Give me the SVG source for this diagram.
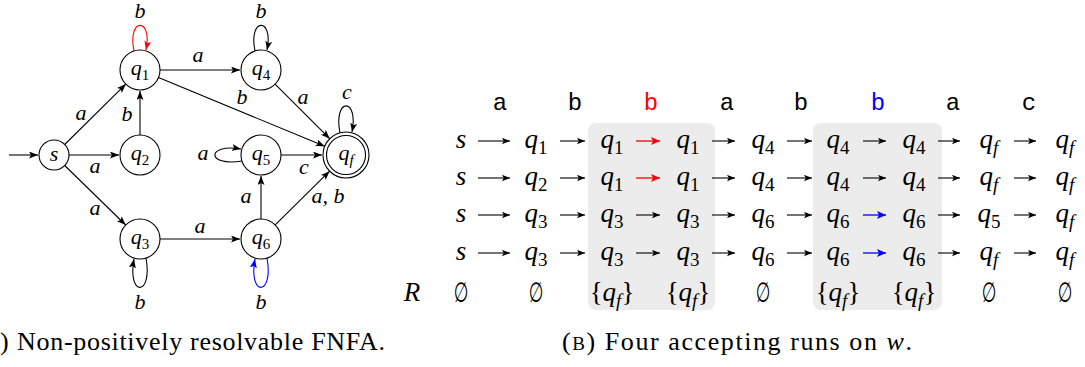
<svg xmlns="http://www.w3.org/2000/svg" width="1085" height="367" viewBox="0 0 1085 367">
<style>
.n{fill:#fff;stroke:#000;stroke-width:1.1}
.e{fill:none;stroke:#000;stroke-width:1.1;marker-end:url(#ah)}
.er{fill:none;stroke:#f00;stroke-width:1.1;marker-end:url(#ahr)}
.eb{fill:none;stroke:#00f;stroke-width:1.1;marker-end:url(#ahb)}
.m{font-style:italic}
.nl{font-size:22px}
.ns{font-size:15px;font-style:normal}
.nsi{font-size:15px}
.tm{font-style:italic;font-size:27px}
.ts{font-size:19px;font-style:normal}
.tsi{font-size:19px}
.up{font-style:normal}
.tt{font-size:24px}
.cap{font-size:26px}
.ta{fill:none;stroke:#000;stroke-width:1.1;marker-end:url(#th)}
.tar{fill:none;stroke:#f00;stroke-width:1.3;marker-end:url(#thr)}
.tab{fill:none;stroke:#00f;stroke-width:1.3;marker-end:url(#thb)}
.box{fill:#ececec}
.es{font-size:28px}
</style>
<defs>
<marker id="ah" viewBox="0 0 9 7" refX="9" refY="3.5" markerWidth="9" markerHeight="7" orient="auto" markerUnits="userSpaceOnUse"><path d="M0,0 L9,3.5 L0,7 L2,3.5 Z" fill="#000"/></marker>
<marker id="ahr" viewBox="0 0 9 7" refX="9" refY="3.5" markerWidth="9" markerHeight="7" orient="auto" markerUnits="userSpaceOnUse"><path d="M0,0 L9,3.5 L0,7 L2,3.5 Z" fill="#f00"/></marker>
<marker id="ahb" viewBox="0 0 9 7" refX="9" refY="3.5" markerWidth="9" markerHeight="7" orient="auto" markerUnits="userSpaceOnUse"><path d="M0,0 L9,3.5 L0,7 L2,3.5 Z" fill="#00f"/></marker>
<marker id="th" viewBox="0 0 8 7" refX="8" refY="3.5" markerWidth="8" markerHeight="7" orient="auto" markerUnits="userSpaceOnUse"><path d="M0,0.3 L8,3.5 L0,6.7 L1.8,3.5 Z" fill="#000"/></marker>
<marker id="thr" viewBox="0 0 9 8" refX="9" refY="4" markerWidth="9" markerHeight="8" orient="auto" markerUnits="userSpaceOnUse"><path d="M0,0 L9,4 L0,8 L2,4 Z" fill="#f00"/></marker>
<marker id="thb" viewBox="0 0 9 8" refX="9" refY="4" markerWidth="9" markerHeight="8" orient="auto" markerUnits="userSpaceOnUse"><path d="M0,0 L9,4 L0,8 L2,4 Z" fill="#00f"/></marker>
</defs>

<g id="connectors">
<path class="e" d="M9,155 H38"/>
<path class="e" d="M64.7,144.5 L125.8,84.1"/>
<path class="e" d="M69,155 H119"/>
<path class="e" d="M64.7,165.5 L125.7,225"/>
<path class="e" d="M140,135 V91"/>
<path class="e" d="M160,70 H240"/>
<path class="e" d="M158.5,77.6 L324.7,146.2"/>
<path class="e" d="M275.1,84.1 L329.7,138.7"/>
<path class="e" d="M281,155 H322"/>
<path class="e" d="M160,239 H240"/>
<path class="e" d="M261,219 V176"/>
<path class="e" d="M275.2,224.9 L329.6,171.2"/>
<path class="er" d="M134,51 C127,17 153,17 146,50"/>
<path class="e" d="M255,51 C248,17 274,17 267,50"/>
<path class="e" d="M340,133 C333,97 359,97 352,132"/>
<path class="e" d="M242,161 C206,167 206,143 241,149"/>
<path class="e" d="M146,258 C153,297 127,297 134,259"/>
<path class="eb" d="M267,258 C274,297 248,297 255,259"/>
<g class="m nl" text-anchor="middle" font-family="Liberation Serif, serif">
<text x="140" y="18">b</text>
<text x="81" y="120">a</text>
<text x="127" y="121">b</text>
<text x="95" y="173">a</text>
<text x="95" y="215">a</text>
<text x="140" y="309">b</text>
<text x="198" y="62">a</text>
<text x="261" y="18">b</text>
<text x="242" y="104">b</text>
<text x="303" y="104">a</text>
<text x="347" y="99">c</text>
<text x="203" y="160">a</text>
<text x="304" y="174">c</text>
<text x="246" y="203">a</text>
<text x="328" y="203">a, b</text>
<text x="200" y="233">a</text>
<text x="261" y="309">b</text>
</g>
</g>

<g font-family="Liberation Serif, serif">
<g id="s"><circle class="n" cx="54" cy="155" r="15"/><text class="m nl" x="54" y="161" text-anchor="middle">s</text></g>
<g id="q1"><circle class="n" cx="140" cy="70" r="20"/><text class="m nl" x="140" y="75" text-anchor="middle">q<tspan class="ns" dy="5">1</tspan></text></g>
<g id="q2"><circle class="n" cx="140" cy="155" r="20"/><text class="m nl" x="140" y="160" text-anchor="middle">q<tspan class="ns" dy="5">2</tspan></text></g>
<g id="q3"><circle class="n" cx="140" cy="239" r="20"/><text class="m nl" x="140" y="244" text-anchor="middle">q<tspan class="ns" dy="5">3</tspan></text></g>
<g id="q4"><circle class="n" cx="261" cy="70" r="20"/><text class="m nl" x="261" y="75" text-anchor="middle">q<tspan class="ns" dy="5">4</tspan></text></g>
<g id="q5"><circle class="n" cx="261" cy="155" r="20"/><text class="m nl" x="261" y="160" text-anchor="middle">q<tspan class="ns" dy="5">5</tspan></text></g>
<g id="q6"><circle class="n" cx="261" cy="239" r="20"/><text class="m nl" x="261" y="244" text-anchor="middle">q<tspan class="ns" dy="5">6</tspan></text></g>
<g id="qf"><circle class="n" cx="346" cy="155" r="23"/><circle class="n" cx="346" cy="155" r="19.5"/><text class="m nl" x="346" y="160" text-anchor="middle">q<tspan class="nsi" dy="5">f</tspan></text></g>

<text class="cap" x="0" y="350">)</text>
<text class="cap" x="17" y="350" textLength="368" lengthAdjust="spacing">Non-positively resolvable FNFA.</text>
</g>

<g id="table">
<rect class="box" x="588" y="123" width="127" height="187" rx="8"/>
<rect class="box" x="813" y="123" width="129" height="187" rx="8"/>
<g class="tt" text-anchor="middle" font-family="Liberation Mono, monospace">
<text x="500" y="110">a</text>
<text x="575" y="110">b</text>
<text x="651" y="110" fill="#f00">b</text>
<text x="727" y="110">a</text>
<text x="801" y="110">b</text>
<text x="878" y="110" fill="#00f">b</text>
<text x="953" y="110">a</text>
<text x="1029" y="110">c</text>
</g>
<g class="tm" text-anchor="middle" font-family="Liberation Serif, serif">
<text x="461" y="148">s</text><text x="536" y="148">q<tspan class="ts" dy="6">1</tspan></text><text x="612" y="148">q<tspan class="ts" dy="6">1</tspan></text><text x="688" y="148">q<tspan class="ts" dy="6">1</tspan></text><text x="763" y="148">q<tspan class="ts" dy="6">4</tspan></text><text x="838" y="148">q<tspan class="ts" dy="6">4</tspan></text><text x="914" y="148">q<tspan class="ts" dy="6">4</tspan></text><text x="989" y="148">q<tspan class="tsi" dy="6">f</tspan></text><text x="1065" y="148">q<tspan class="tsi" dy="6">f</tspan></text>
<text x="461" y="185">s</text><text x="536" y="185">q<tspan class="ts" dy="6">2</tspan></text><text x="612" y="185">q<tspan class="ts" dy="6">1</tspan></text><text x="688" y="185">q<tspan class="ts" dy="6">1</tspan></text><text x="763" y="185">q<tspan class="ts" dy="6">4</tspan></text><text x="838" y="185">q<tspan class="ts" dy="6">4</tspan></text><text x="914" y="185">q<tspan class="ts" dy="6">4</tspan></text><text x="989" y="185">q<tspan class="tsi" dy="6">f</tspan></text><text x="1065" y="185">q<tspan class="tsi" dy="6">f</tspan></text>
<text x="461" y="222">s</text><text x="536" y="222">q<tspan class="ts" dy="6">3</tspan></text><text x="612" y="222">q<tspan class="ts" dy="6">3</tspan></text><text x="688" y="222">q<tspan class="ts" dy="6">3</tspan></text><text x="763" y="222">q<tspan class="ts" dy="6">6</tspan></text><text x="838" y="222">q<tspan class="ts" dy="6">6</tspan></text><text x="914" y="222">q<tspan class="ts" dy="6">6</tspan></text><text x="989" y="222">q<tspan class="ts" dy="6">5</tspan></text><text x="1065" y="222">q<tspan class="tsi" dy="6">f</tspan></text>
<text x="461" y="260">s</text><text x="536" y="260">q<tspan class="ts" dy="6">3</tspan></text><text x="612" y="260">q<tspan class="ts" dy="6">3</tspan></text><text x="688" y="260">q<tspan class="ts" dy="6">3</tspan></text><text x="763" y="260">q<tspan class="ts" dy="6">6</tspan></text><text x="838" y="260">q<tspan class="ts" dy="6">6</tspan></text><text x="914" y="260">q<tspan class="ts" dy="6">6</tspan></text><text x="989" y="260">q<tspan class="tsi" dy="6">f</tspan></text><text x="1065" y="260">q<tspan class="tsi" dy="6">f</tspan></text>
<text x="412" y="301">R</text>
<text x="612" y="301"><tspan class="up">{</tspan>q<tspan class="tsi" dy="6">f</tspan><tspan class="up" dy="-6">}</tspan></text>
<text x="688" y="301"><tspan class="up">{</tspan>q<tspan class="tsi" dy="6">f</tspan><tspan class="up" dy="-6">}</tspan></text>
<text x="838" y="301"><tspan class="up">{</tspan>q<tspan class="tsi" dy="6">f</tspan><tspan class="up" dy="-6">}</tspan></text>
<text x="914" y="301"><tspan class="up">{</tspan>q<tspan class="tsi" dy="6">f</tspan><tspan class="up" dy="-6">}</tspan></text>
</g>
<g class="es" text-anchor="middle" font-family="DejaVu Sans, sans-serif">
<text transform="translate(461,302) scale(0.6,1)">∅</text>
<text transform="translate(536,302) scale(0.6,1)">∅</text>
<text transform="translate(763,302) scale(0.6,1)">∅</text>
<text transform="translate(989,302) scale(0.6,1)">∅</text>
<text transform="translate(1065,302) scale(0.6,1)">∅</text>
</g>
<g id="run-arrows">
<path class="ta" d="M478,141 H510"/><path class="ta" d="M560,141 H585"/><path class="tar" d="M636,141 H660"/><path class="ta" d="M712,141 H735"/><path class="ta" d="M787,141 H812"/><path class="ta" d="M863,141 H886"/><path class="ta" d="M938,141 H960"/><path class="ta" d="M1014,141 H1036"/>
<path class="ta" d="M478,178 H510"/><path class="ta" d="M560,178 H585"/><path class="tar" d="M636,178 H660"/><path class="ta" d="M712,178 H735"/><path class="ta" d="M787,178 H812"/><path class="ta" d="M863,178 H886"/><path class="ta" d="M938,178 H960"/><path class="ta" d="M1014,178 H1036"/>
<path class="ta" d="M478,215 H510"/><path class="ta" d="M560,215 H585"/><path class="ta" d="M636,215 H660"/><path class="ta" d="M712,215 H735"/><path class="ta" d="M787,215 H812"/><path class="tab" d="M863,215 H886"/><path class="ta" d="M938,215 H960"/><path class="ta" d="M1014,215 H1036"/>
<path class="ta" d="M478,253 H510"/><path class="ta" d="M560,253 H585"/><path class="ta" d="M636,253 H660"/><path class="ta" d="M712,253 H735"/><path class="ta" d="M787,253 H812"/><path class="tab" d="M863,253 H886"/><path class="ta" d="M938,253 H960"/><path class="ta" d="M1014,253 H1036"/>
</g>
</g>

<text class="cap" x="562" y="350" font-family="Liberation Serif, serif" textLength="350" lengthAdjust="spacing">(<tspan font-size="19">B</tspan>) Four accepting runs on <tspan font-style="italic">w</tspan>.</text>
</svg>
